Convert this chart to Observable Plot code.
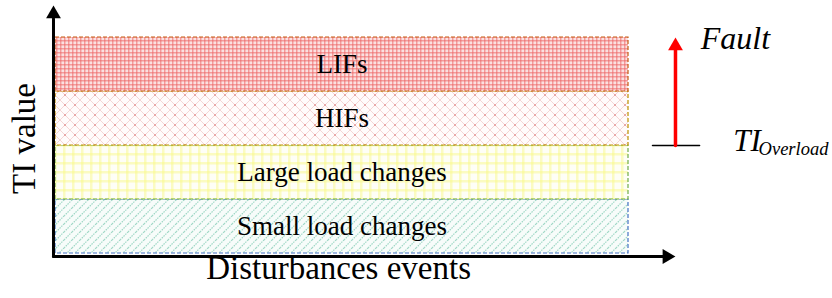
<!DOCTYPE html>
<html>
<head>
<meta charset="utf-8">
<script src="https://cdn.jsdelivr.net/npm/d3@7"></script>
<script src="https://cdn.jsdelivr.net/npm/@observablehq/plot@0.6"></script>
<style>
  html, body { margin: 0; padding: 0; background: #fff; }
  #chart svg { display: block; }
</style>
</head>
<body>
<div id="chart"></div>
<script>
// ---- data ----
const categories = ["Small load changes", "Large load changes", "HIFs", "LIFs"];
const tiLow = [0, 1, 2, 3];
const tiHigh = [1, 2, 3, 4];
const eventStart = 0;
const eventEnd = 10;
const thresholdTI = 2;     // TI_Overload level
const faultTI = 4;         // fault direction arrow tip
const xTitle = "Disturbances events";
const yTitle = "TI value";
const faultLabel = "Fault";
const thresholdLabel = "TI";
const thresholdSub = "Overload";

// ---- styles (separate from data) ----
const patternIds = ["pat-small", "pat-large", "pat-hif", "pat-lif"];
const borderColors = ["#4472C4", "#70AD47", "#BF9000", "#C55A11"];
const serif = "'Liberation Serif', 'Times New Roman', serif";

const rows = categories.map((c, i) => ({
  category: c, lo: tiLow[i], hi: tiHigh[i],
  fill: `url(#${patternIds[i]})`, stroke: borderColors[i]
}));

const axisX0 = -0.035, axisY0 = -0.056;
const xAxisEnd = 10.65, yAxisEnd = 4.35;
const arrowX = 10.82;

const svg = Plot.plot({
  width: 832,
  height: 298,
  margin: 0,
  x: {domain: [0, 10], range: [55, 628], axis: null},
  y: {domain: [0, 4], range: [253, 37], axis: null},
  color: {type: "identity"},
  marks: [
    Plot.rect(rows, {
      x1: eventStart, x2: eventEnd, y1: "lo", y2: "hi",
      fill: "fill", stroke: "stroke", strokeWidth: 1.2, strokeDasharray: "4,2"
    }),
    Plot.text(rows, {
      x: (eventStart + eventEnd) / 2, y: d => (d.lo + d.hi) / 2, text: "category",
      fontSize: 27, fontFamily: serif, fill: "#000", lineAnchor: "middle"
    }),
    // axes
    Plot.line([[axisX0, axisY0], [axisX0, yAxisEnd]], {stroke: "#000", strokeWidth: 3}),
    Plot.line([[axisX0, axisY0], [xAxisEnd, axisY0]], {stroke: "#000", strokeWidth: 3}),
    Plot.dot([[axisX0, 4.435]], {symbol: "triangle", r: 5.5, fill: "#000", stroke: "none"}),
    Plot.dot([[10.67, axisY0]], {symbol: "triangle", r: 5.5, fill: "#000", stroke: "none", rotate: 90}),
    // titles
    Plot.text([yTitle], {x: -0.35, y: 2.13, text: d => d, rotate: -90, lineAnchor: "bottom",
      fontSize: 33, fontFamily: serif, fill: "#000"}),
    Plot.text([xTitle], {x: 4.94, y: -0.463, text: d => d, lineAnchor: "bottom",
      fontSize: 33, fontFamily: serif, fill: "#000"}),
    // threshold + fault arrow
    Plot.line([[10.42, thresholdTI], [11.24, thresholdTI]], {stroke: "#000", strokeWidth: 1.6}),
    Plot.line([[arrowX, thresholdTI], [arrowX, 3.8]], {stroke: "#ff0000", strokeWidth: 3.5}),
    Plot.dot([[arrowX, faultTI - 0.157]], {symbol: "triangle", r: 5.5, fill: "#ff0000", stroke: "none"}),
    Plot.text([faultLabel], {x: 11.26, y: 3.78, text: d => d, textAnchor: "start", lineAnchor: "bottom",
      fontSize: 32, fontStyle: "italic", fontFamily: serif, fill: "#000"}),
    Plot.text([thresholdLabel], {x: 11.83, y: 1.907, text: d => d, textAnchor: "start", lineAnchor: "bottom",
      fontSize: 31, fontStyle: "italic", fontFamily: serif, fill: "#000"}),
    Plot.text([thresholdSub], {x: 12.27, y: 1.815, text: d => d, textAnchor: "start", lineAnchor: "bottom",
      fontSize: 18.5, fontStyle: "italic", fontFamily: serif, fill: "#000"})
  ]
});

// pattern definitions
const defs = d3.select(svg).insert("defs", ":first-child");
// LIF: dense red grid
let p = defs.append("pattern").attr("id", "pat-lif").attr("patternUnits", "userSpaceOnUse").attr("width", 4).attr("height", 4);
p.append("rect").attr("width", 4).attr("height", 4).attr("fill", "#fbe0e0");
p.append("rect").attr("width", 1.5).attr("height", 4).attr("fill", "#ec6262").attr("opacity", 0.55);
p.append("rect").attr("width", 4).attr("height", 1.5).attr("fill", "#ec6262").attr("opacity", 0.55);
// HIF: diagonal lattice
p = defs.append("pattern").attr("id", "pat-hif").attr("patternUnits", "userSpaceOnUse").attr("width", 10).attr("height", 10);
p.append("rect").attr("width", 10).attr("height", 10).attr("fill", "#fffbfb");
p.append("path").attr("d", "M0,0L10,10M10,0L0,10").attr("stroke", "#f2cccc").attr("stroke-width", 0.8).attr("fill", "none");
p.append("circle").attr("cx", 5).attr("cy", 5).attr("r", 0.8).attr("fill", "#d87070");
// Large: yellow grid
p = defs.append("pattern").attr("id", "pat-large").attr("patternUnits", "userSpaceOnUse").attr("width", 9).attr("height", 9);
p.append("rect").attr("width", 9).attr("height", 9).attr("fill", "#fefef6");
p.append("rect").attr("width", 2.5).attr("height", 9).attr("fill", "#f8f880").attr("opacity", 0.45);
p.append("rect").attr("width", 9).attr("height", 2.5).attr("fill", "#f8f880").attr("opacity", 0.45);
// Small: teal diagonal hatch
p = defs.append("pattern").attr("id", "pat-small").attr("patternUnits", "userSpaceOnUse").attr("width", 8).attr("height", 8);
p.append("rect").attr("width", 8).attr("height", 8).attr("fill", "#f7fcfa");
p.append("path").attr("d", "M0,8L8,0M-2,2L2,-2M6,10L10,6").attr("stroke", "#9fd8c6").attr("stroke-width", 1.2)
  .attr("stroke-dasharray", "1.5,1").attr("fill", "none");

document.getElementById("chart").appendChild(svg);
</script>
</body>
</html>
